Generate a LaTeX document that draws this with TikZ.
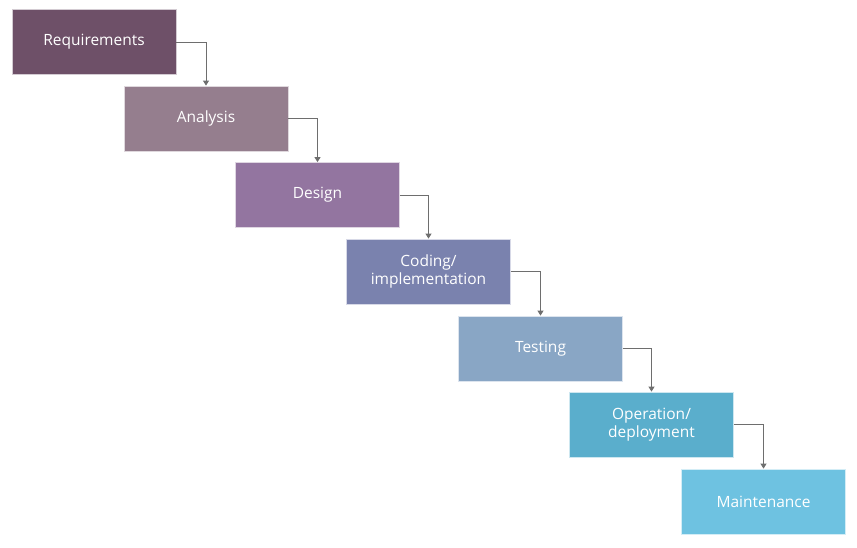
\documentclass[tikz,border=0pt]{standalone}
\usepackage{fontspec}
\setmainfont{Open Sans}
\usetikzlibrary{arrows.meta}
\definecolor{cReq}{RGB}{110,80,104}
\definecolor{cAna}{RGB}{149,126,142}
\definecolor{cDes}{RGB}{147,117,160}
\definecolor{cCod}{RGB}{122,130,174}
\definecolor{cTes}{RGB}{137,166,197}
\definecolor{cOpe}{RGB}{90,174,204}
\definecolor{cMai}{RGB}{110,194,225}
\definecolor{lineGray}{RGB}{110,110,110}
\tikzset{
  phase/.style={rectangle, minimum width=164pt, minimum height=65pt, inner sep=0pt,
    text=white, font=\fontsize{15.5}{18}\selectfont, align=center, draw=white!70!#1, line width=0.8pt, fill=#1},
  flow/.style={draw=lineGray, line width=0.9pt, -{Triangle[length=5pt,width=6pt]}}
}
\begin{document}
\begin{tikzpicture}[x=1pt,y=-1pt]
\useasboundingbox (0,0) rectangle (857,547);
\node[phase=cReq] (req) at (94,42) {Requirements};
\node[phase=cAna] (ana) at (206,118.5) {Analysis};
\node[phase=cDes] (des) at (317.5,195) {Design};
\node[phase=cCod] (cod) at (428.5,271.5) {Coding/\\implementation};
\node[phase=cTes] (tes) at (540.5,348.5) {Testing};
\node[phase=cOpe] (ope) at (651.5,424.5) {Operation/\\deployment};
\node[phase=cMai] (mai) at (763.5,501.5) {Maintenance};
\draw[flow] (req.east) -| (ana.north);
\draw[flow] (ana.east) -| (des.north);
\draw[flow] (des.east) -| (cod.north);
\draw[flow] (cod.east) -| (tes.north);
\draw[flow] (tes.east) -| (ope.north);
\draw[flow] (ope.east) -| (mai.north);
\end{tikzpicture}
\end{document}
